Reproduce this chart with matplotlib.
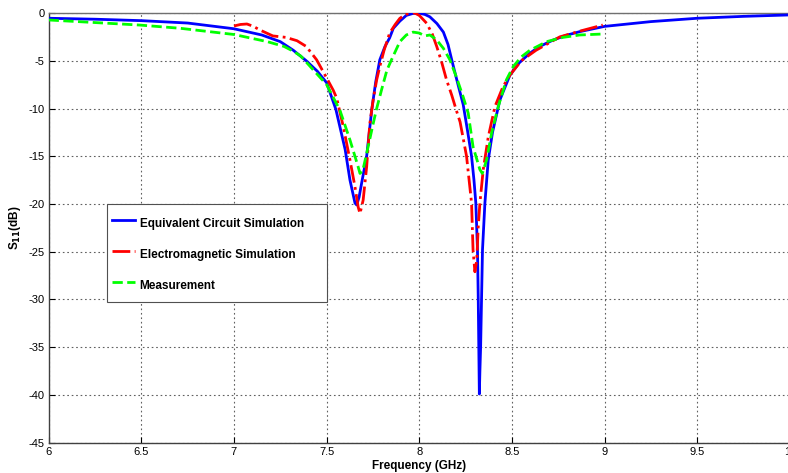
import matplotlib
matplotlib.use("Agg")
import matplotlib.pyplot as plt
from matplotlib.patches import Rectangle

plt.rcParams['font.family'] = ['Liberation Sans', 'DejaVu Sans']
plt.rcParams['axes.unicode_minus'] = False

# Equivalent circuit simulation
f_circ = [6.0, 6.25, 6.5, 6.75, 7.0, 7.15, 7.25, 7.32, 7.39, 7.45, 7.5, 7.55, 7.60, 7.626,
          7.653, 7.662, 7.675, 7.689, 7.716, 7.743, 7.765, 7.787, 7.815, 7.84, 7.86, 7.895,
          7.93, 7.965, 7.995, 8.03, 8.057, 8.095, 8.13, 8.155, 8.175, 8.205, 8.237, 8.26,
          8.282, 8.295, 8.305, 8.314, 8.318, 8.321, 8.324, 8.327, 8.331, 8.336, 8.341,
          8.354, 8.372, 8.395, 8.435, 8.489, 8.54, 8.597, 8.65, 8.72, 8.79, 8.866, 9.0,
          9.25, 9.5, 9.75, 10.0]
s_circ = [-0.55, -0.65, -0.8, -1.05, -1.65, -2.3, -3.0, -3.9, -5.0, -6.1, -7.3, -10.1, -14.3, -17.5,
          -19.9, -20.1, -19.3, -17.8, -15.0, -10.2, -7.2, -4.9, -3.5, -2.6, -1.6, -0.85,
          -0.25, -0.05, 0.0, -0.15, -0.4, -1.1, -2.0, -3.3, -4.9, -7.2, -9.6, -12.3,
          -15.0, -17.5, -19.9, -24.8, -29.8, -34.9, -39.9, -37.5, -34.9, -29.8, -24.8,
          -19.9, -15.4, -12.5, -9.1, -6.5, -5.2, -4.2, -3.5, -2.85, -2.35, -1.95, -1.4,
          -0.9, -0.55, -0.35, -0.2]

# Electromagnetic simulation
f_em = [7.0, 7.035, 7.07, 7.105, 7.14, 7.21, 7.28, 7.34, 7.39, 7.446, 7.5, 7.536, 7.554, 7.59,
        7.626, 7.653, 7.67, 7.68, 7.697, 7.716, 7.733, 7.751, 7.77, 7.787, 7.81, 7.84,
        7.87, 7.895, 7.925, 7.95, 7.975, 8.0, 8.04, 8.07, 8.094, 8.12, 8.147, 8.175, 8.2,
        8.22, 8.255, 8.282, 8.29, 8.3, 8.31, 8.318, 8.327, 8.345, 8.372, 8.408, 8.452,
        8.489, 8.55, 8.63, 8.758, 8.866, 8.99]
s_em = [-1.36, -1.2, -1.15, -1.4, -1.78, -2.4, -2.55, -2.9, -3.5, -4.9, -6.8, -8.1, -8.9, -11.9,
        -15.4, -18.2, -20.3, -21.0, -19.6, -16.1, -11.6, -9.1, -7.0, -5.6, -3.9, -2.1,
        -1.2, -0.56, -0.15, -0.03, 0.0, -0.25, -1.08, -2.2, -3.5, -5.1, -7.0, -8.6, -10.2,
        -11.4, -15.0, -19.9, -24.8, -27.1, -25.9, -22.4, -19.9, -16.4, -13.0, -9.8, -7.7,
        -6.5, -5.0, -3.9, -2.5, -1.9, -1.26]

# Measurement
f_meas = [6.0, 6.25, 6.49, 6.71, 7.0, 7.18, 7.27, 7.32, 7.36, 7.43, 7.5, 7.572, 7.626, 7.67,
          7.68, 7.695, 7.716, 7.751, 7.77, 7.797, 7.825, 7.85, 7.895, 7.93, 7.967, 8.0,
          8.03, 8.057, 8.093, 8.13, 8.165, 8.2, 8.237, 8.264, 8.29, 8.327, 8.34, 8.363,
          8.39, 8.426, 8.47, 8.507, 8.55, 8.597, 8.687, 8.776, 8.866, 8.99]
s_meas = [-0.73, -1.0, -1.26, -1.6, -2.25, -3.0, -3.5, -4.0, -4.5, -6.0, -7.5, -10.2, -13.3, -16.1,
          -16.8, -16.5, -14.7, -11.6, -10.0, -8.0, -6.0, -4.9, -3.0, -2.3, -2.0, -2.1,
          -2.4, -2.3, -2.8, -3.7, -4.9, -6.7, -8.8, -10.5, -14.0, -16.4, -16.8, -15.4,
          -12.6, -9.8, -7.0, -5.6, -4.6, -3.9, -3.0, -2.55, -2.3, -2.2]

x_ticks = [6, 6.5, 7, 7.5, 8, 8.5, 9, 9.5, 10]
x_tick_labels = ['6', '6.5', '7', '7.5', '8', '8.5', '9', '9.5', '10']
y_ticks = [0, -5, -10, -15, -20, -25, -30, -35, -40, -45]

fig = plt.figure(figsize=(7.88, 4.73), dpi=100)
ax = fig.add_axes([0.0617, 0.064, 0.9408, 0.9085])

ax.plot(f_circ, s_circ, color='#0000ff', lw=2.0, ls='-', label='Equivalent Circuit Simulation', zorder=3)
ax.plot(f_em, s_em, color='#ff0000', lw=2.0, ls='-.', label='Electromagnetic Simulation', zorder=3)
ax.plot(f_meas, s_meas, color='#00ff00', lw=2.0, ls='--', label='Measurement', zorder=3)

ax.set_xlim(6, 10)
ax.set_ylim(-45, 0)
ax.set_xticks(x_ticks)
ax.set_xticklabels(x_tick_labels)
ax.set_yticks(y_ticks)
ax.tick_params(direction='in', length=4, labelsize=8, colors='#000000', pad=3)
ax.grid(True, ls=(0, (1.5, 2.5)), color='#606060', lw=0.8)
for s in ax.spines.values():
    s.set_color('#707070')
    s.set_linewidth(1.0)
ax.spines['left'].set_color('#404040')
ax.spines['bottom'].set_color('#404040')

ax.set_xlabel('Frequency (GHz)', fontsize=8.5, fontweight='bold', labelpad=2)
ax.set_ylabel('S$_{\\mathbf{11}}$(dB)', fontsize=8.5, fontweight='bold', labelpad=4)

# legend frame drawn separately
frame = Rectangle((0.0788, 0.3274), 0.2967, 0.2281, transform=ax.transAxes,
                  facecolor='white', edgecolor='#505050', lw=0.8, zorder=4)
ax.add_patch(frame)
leg = ax.legend(loc='upper left', bbox_to_anchor=(0.0788, 0.5458),
                prop={'weight': 'bold', 'size': 8.5}, frameon=False,
                borderpad=0.4, labelspacing=0.83, handlelength=2.0, handleheight=2.37,
                handletextpad=0.35, borderaxespad=0)
leg.set_zorder(5)

fig.savefig('out.png', dpi=100)
